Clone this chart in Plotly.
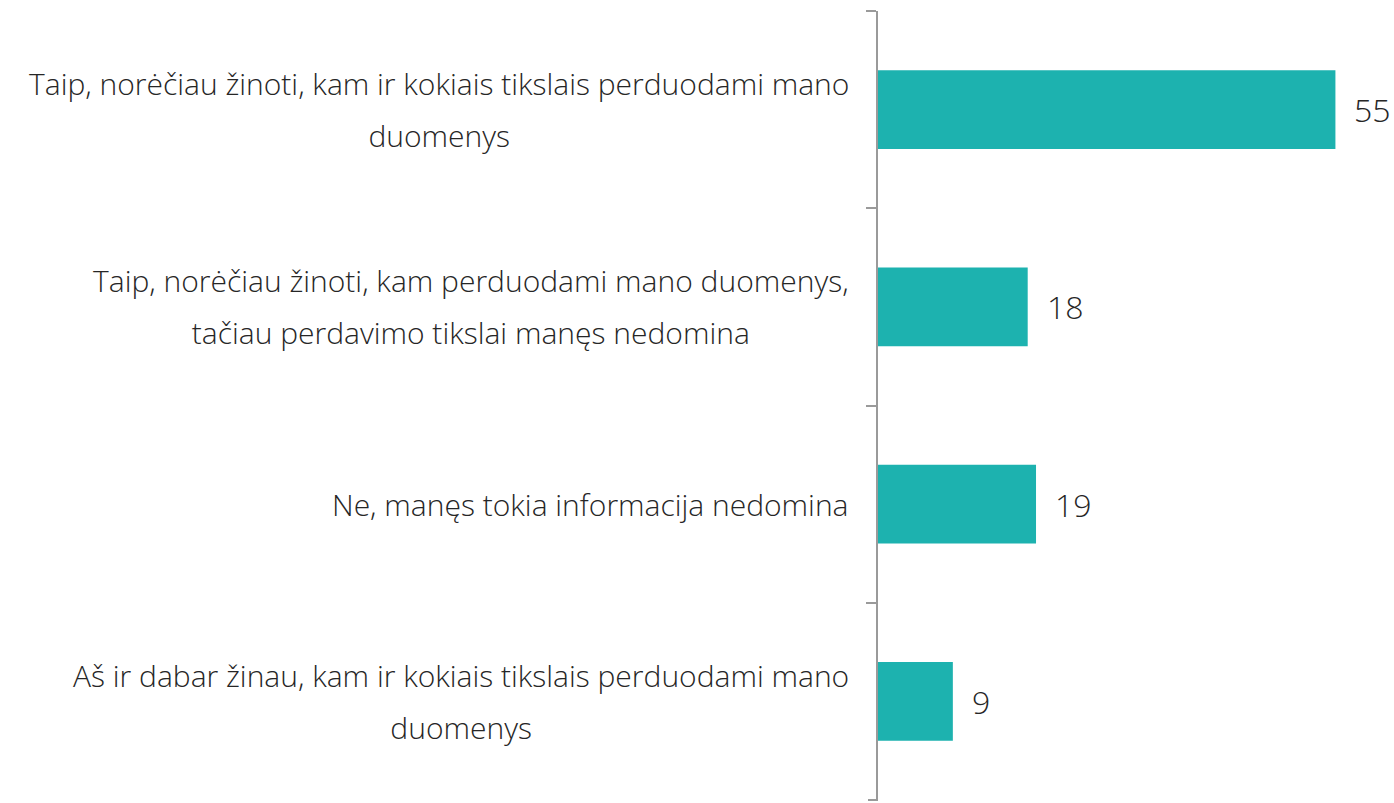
import plotly.graph_objects as go

categories = [
    "Taip, norėčiau žinoti, kam ir kokiais tikslais perduodami mano<br>duomenys",
    "Taip, norėčiau žinoti, kam perduodami mano duomenys,<br>tačiau perdavimo tikslai manęs nedomina",
    "Ne, manęs tokia informacija nedomina",
    "Aš ir dabar žinau, kam ir kokiais tikslais perduodami mano<br>duomenys",
]
values = [55, 18, 19, 9]

W, H = 1394, 803
ML, MR, MT, MB = 878, 17, 11, 3
BAR_COLOR = "#1DB2AF"
TEXT_COLOR = "#262626"
AXIS_COLOR = "#9A9A9A"
FONT = "Open Sans"
LABEL_SIZE = 30
LINE_SIZE = 40  # controls line spacing of wrapped labels
VALUE_SIZE = 32
TICKLEN = 10

fig = go.Figure()
fig.add_trace(go.Bar(
    x=values, y=categories, orientation="h",
    marker=dict(color=BAR_COLOR, line=dict(width=0)),
    width=0.4, hoverinfo="skip",
))

for cat, v in zip(categories, values):
    lines = cat.split("<br>")
    txt = "<br>".join(f"<span style='font-size:{LABEL_SIZE}px'>{ln}</span>" for ln in lines)
    fig.add_annotation(
        x=0, y=cat, xref="x", yref="y", text=txt, showarrow=False,
        xanchor="right", yanchor="middle", align="center", xshift=-27,
        font=dict(family=FONT, size=LINE_SIZE, color=TEXT_COLOR, weight=300),
    )
    fig.add_annotation(
        x=v, y=cat, xref="x", yref="y", text=str(v), showarrow=False,
        xanchor="left", yanchor="middle", xshift=17,
        font=dict(family=FONT, size=VALUE_SIZE, color=TEXT_COLOR, weight=300),
    )

# closing tick at the bottom boundary of the category axis
fig.add_shape(type="line", xref="paper", yref="paper", xsizemode="pixel", xanchor=0,
              ysizemode="pixel", yanchor=0,
              x0=-TICKLEN, x1=0, y0=0, y1=0,
              line=dict(color=AXIS_COLOR, width=2), layer="above")

n = len(categories)
fig.update_layout(
    width=W, height=H, margin=dict(l=ML, r=MR, t=MT, b=MB),
    paper_bgcolor="white", plot_bgcolor="white", showlegend=False,
    xaxis=dict(range=[0, 60], showgrid=False, zeroline=False, showticklabels=False,
               showline=False, ticks=""),
    yaxis=dict(type="category", range=[n - 0.5, -0.5], tickson="boundaries",
               ticks="outside", ticklen=TICKLEN, tickwidth=2, tickcolor=AXIS_COLOR,
               showline=True, linecolor=AXIS_COLOR, linewidth=2,
               showgrid=False, zeroline=False, showticklabels=False),
)

fig.write_html("out.html", config={"displayModeBar": False},
               post_script="document.body.style.margin='0';document.body.style.overflow='hidden';")
